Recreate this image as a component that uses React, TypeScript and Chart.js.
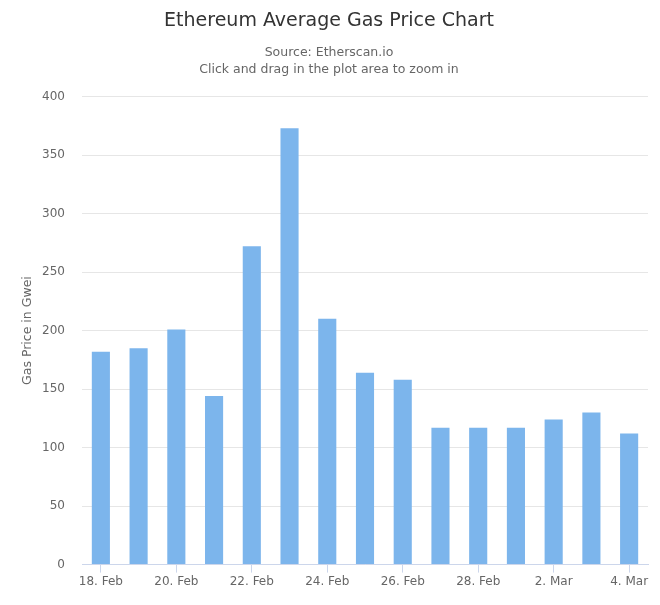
import React, { useEffect, useRef } from "react";
import { Chart, registerables } from "chart.js";

Chart.register(...registerables);

const categories = [
  "18. Feb", "19. Feb", "20. Feb", "21. Feb", "22. Feb", "23. Feb", "24. Feb", "25. Feb",
  "26. Feb", "27. Feb", "28. Feb", "1. Mar", "2. Mar", "3. Mar", "4. Mar",
];
const gasPrice = [182, 185, 201, 144, 272, 373, 210, 164, 158, 117, 117, 117, 124, 130, 112];
const yTicks = [0, 50, 100, 150, 200, 250, 300, 350, 400];

const FONT = "'DejaVu Sans', sans-serif";

export default function App() {
  const ref = useRef<HTMLCanvasElement | null>(null);
  useEffect(() => {
    if (!ref.current) return;
    const chart = new Chart(ref.current, {
      type: "bar",
      data: {
        labels: categories,
        datasets: [
          {
            label: "Gas Price",
            data: gasPrice,
            backgroundColor: "#7cb5ec",
            borderWidth: 0,
            categoryPercentage: 1,
            barPercentage: 0.48,
          },
        ],
      },
      options: {
        responsive: false,
        animation: false,
        layout: { padding: { left: 10, right: 12, top: 0, bottom: 14 } },
        plugins: {
          legend: { display: false },
          tooltip: { enabled: false },
          title: {
            display: true,
            text: "Ethereum Average Gas Price Chart",
            color: "#333333",
            font: { family: FONT, size: 19, weight: "normal" },
            padding: { top: 10, bottom: 12 },
          },
          subtitle: {
            display: true,
            text: ["Source: Etherscan.io", "Click and drag in the plot area to zoom in"],
            color: "#666666",
            font: { family: FONT, size: 12.5, weight: "normal", lineHeight: 1.35 },
            padding: { top: 0, bottom: 18 },
          },
        },
        scales: {
          x: {
            offset: true,
            grid: {
              offset: false,
              drawOnChartArea: false,
              drawTicks: true,
              tickLength: 8,
              color: (ctx: any) => (ctx.index % 2 === 0 ? "#ccd6eb" : "rgba(0,0,0,0)"),
            },
            border: { display: true, color: "#ccd6eb", width: 1 },
            ticks: {
              autoSkip: false,
              maxRotation: 0,
              color: "#666666",
              font: { family: FONT, size: 12 },
              padding: 2,
              callback: (_v: any, i: number) => (i % 2 === 0 ? categories[i] : ""),
            },
          },
          y: {
            min: 0,
            max: 400,
            afterBuildTicks: (axis: any) => {
              axis.ticks = yTicks.map((v) => ({ value: v }));
            },
            afterFit: (axis: any) => {
              axis.width = 72;
            },
            grid: { color: "#e6e6e6", drawTicks: false },
            border: { display: false },
            ticks: {
              color: "#666666",
              font: { family: FONT, size: 12 },
              padding: 17,
            },
            title: {
              display: true,
              text: "Gas Price in Gwei",
              color: "#666666",
              font: { family: FONT, size: 12.5 },
              padding: { top: 10, bottom: 6 },
            },
          },
        },
      },
    });
    return () => chart.destroy();
  }, []);
  return (
    <div style={{ position: "fixed", left: 0, top: 0, width: 660, height: 605, background: "#fff" }}>
      <canvas ref={ref} width={660} height={605} />
    </div>
  );
}
